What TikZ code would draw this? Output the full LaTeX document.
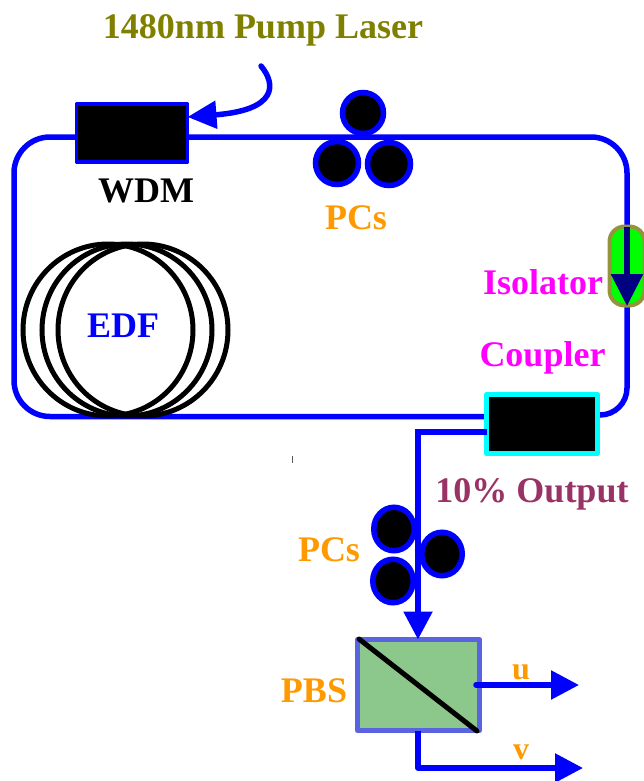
\documentclass[tikz,border=0pt]{standalone}
\usepackage{fontspec}
\setmainfont{Liberation Serif}
\usetikzlibrary{arrows.meta,calc,backgrounds,shapes.geometric}
\definecolor{pumpolive}{HTML}{808000}
\definecolor{lbl}{HTML}{FF9900}
\definecolor{outp}{HTML}{993366}
\definecolor{isoedge}{HTML}{94943F}
\definecolor{pbsfill}{HTML}{8CC78C}
\definecolor{pbsedge}{HTML}{5A64E0}
\definecolor{isonavy}{HTML}{000080}
\definecolor{purem}{RGB}{255,0,255}
\definecolor{purec}{RGB}{0,255,255}
\definecolor{pureg}{RGB}{0,255,0}
\definecolor{pureb}{RGB}{0,0,255}
\tikzset{
  x=1pt,y=-1pt,
  fiber/.style={draw=pureb,line width=5.5pt},
  fiberarrow/.style={fiber,-{Triangle[length=28pt,width=28pt]}},
  txt/.style={font=\fontsize{36}{40}\selectfont\bfseries,anchor=base,inner sep=0pt},
  smalltxt/.style={font=\fontsize{32}{36}\selectfont\bfseries,anchor=base,inner sep=0pt},
  blackbox/.style={rectangle,fill=black,inner sep=0pt,outer sep=0pt,line join=round},
  roller/.style={ellipse,draw=pureb,fill=black,line width=5.5pt,inner sep=0pt,outer sep=0pt},
  coil/.style={ellipse,draw=black,line width=5pt,minimum width=170pt,minimum height=172pt,inner sep=0pt,outer sep=0pt},
}
\begin{document}
\begin{tikzpicture}
\useasboundingbox (0,0) rectangle (643,781);
% stray tick
\draw[gray!70!black,line width=0.8pt] (292.8,456) -- (292.8,463);
% nodes
\node[blackbox,draw=pureb,line width=3.5pt,minimum width=111pt,minimum height=58pt] (wdm) at (132,133) {};
\node[blackbox,draw=purec,line width=5pt,minimum width=111pt,minimum height=59pt] (coupler) at (542,424) {};
\node[rectangle,rounded corners=15pt,fill=pureg,draw=isoedge,line width=4pt,minimum width=35pt,minimum height=79pt,inner sep=0pt,outer sep=0pt] (iso) at (627,266) {};
\node[rectangle,draw=pbsedge,fill=pbsfill,line width=5pt,line join=round,inner sep=0pt,outer sep=0pt,minimum width=122pt,minimum height=91pt] (pbs) at (418.5,685) {};
% ring
\coordinate (brc) at (627,415);
\coordinate (trc) at (627,137);
\coordinate (tlc) at (14,137);
\coordinate (blc) at (14,416.5);
\begin{scope}[on background layer]
\draw[fiber,rounded corners=27pt] (coupler.east |- brc) -- (brc) -- (iso.south);
\draw[fiber,rounded corners=36pt] (iso.north) -- (trc) -- (tlc) -- (blc) -- (coupler.west |- blc);
\end{scope}
% isolator arrow
\coordinate (isoOut) at (627,306);
\draw[draw=isonavy,line width=5.5pt,-{Triangle[length=32pt,width=31pt]},isonavy] (iso.north) -- (isoOut);
% coupler output to PBS
\coordinate (outBend) at (418,432);
\coordinate (cpOut) at (coupler.west |- outBend);
\draw[fiberarrow,line join=miter] (cpOut) -- (outBend) -- (pbs.north -| outBend);
% PBS outputs
\coordinate (uEnd) at (579,685);
\coordinate (uStart) at (476,685);
\coordinate (vEnd) at (583,768);
\coordinate (vBend) at (418,768);
\draw[fiberarrow,line cap=round] (uStart) -- (uEnd);
\draw[fiberarrow,line join=round] (pbs.south -| vBend) -- (vBend) -- (vEnd);
% splitter
\draw[line width=5pt,line cap=round,black] ($(pbs.north west)+(1.5,-0.5)$) -- ($(pbs.south east)+(-2.5,0.5)$);
% pump
\coordinate (pumpStart) at (261,66);
\draw[fiber,line cap=round,-{Triangle[length=29pt,width=27pt]}] (pumpStart) .. controls (276,84) and (278,110) .. (wdm.east |- 0,117);
% upper polarization controller
\node[roller,minimum width=41pt,minimum height=41pt] (pa) at (363,113) {};
\node[roller,minimum width=43pt,minimum height=43pt] (pb) at (337,163) {};
\node[roller,minimum width=43pt,minimum height=43pt] (pc) at (389,164) {};
% lower polarization controller
\node[roller,minimum width=40.5pt,minimum height=43.5pt] (qa) at (394,529) {};
\node[roller,minimum width=40.5pt,minimum height=43.5pt] (qb) at (393,581) {};
\node[roller,minimum width=40.5pt,minimum height=43.5pt] (qc) at (442,554) {};
% EDF coil
\node[coil] (c1) at (108,330) {};
\node[coil] (c2) at (127,330) {};
\node[coil] (c3) at (143,330) {};
% labels
\node[txt,text=pumpolive] (lpump) at (263,39) {1480nm Pump Laser};
\node[txt,text=black] (lwdm) at (146,202) {WDM};
\node[txt,text=lbl] (lpc1) at (356,229) {PCs};
\node[txt,text=pureb] (ledf) at (123,337) {EDF};
\node[txt,text=purem] (liso) at (543,294) {Isolator};
\node[txt,text=purem] (lcoup) at (542.5,366) {Coupler};
\node[txt,text=outp] (lout) at (532,502) {10\% Output};
\node[txt,text=lbl] (lpc2) at (329,561) {PCs};
\node[txt,text=lbl] (lpbs) at (314,702) {PBS};
\node[smalltxt,text=lbl] (lu) at (521,679) {u};
\node[smalltxt,text=lbl] (lv) at (521,759) {v};
\end{tikzpicture}
\end{document}
